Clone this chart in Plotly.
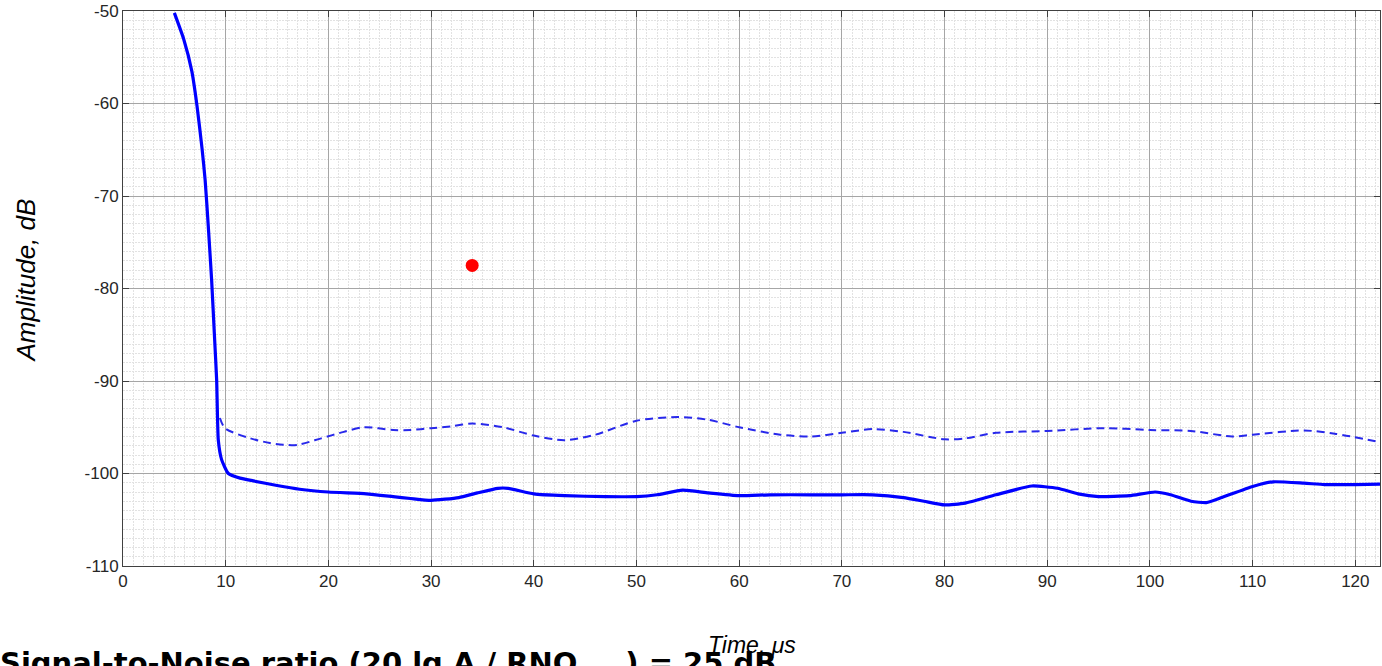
import plotly.graph_objects as go

# Solid trace (signal)
sig_x = [5.0, 5.9, 6.7, 7.2, 7.7, 8.0, 8.3, 8.63, 8.9, 9.12, 9.28, 9.6, 10.26, 11.4,
         12.7, 15, 17.2, 20, 23.7, 26.3, 28, 30, 32.7, 34.5, 36.5, 37.5, 40, 43, 47, 50,
         52, 54.5, 57, 60, 63, 67, 70, 73, 76, 78, 80, 82, 85, 88.5, 91, 93, 95, 98,
         100.5, 102, 104, 105.5, 107, 110, 112, 115, 117, 120, 122.4]
sig_y = [-50.2, -53.0, -56.5, -60.2, -64.9, -68.3, -73.2, -79.1, -85.0, -89.9, -96.4,
         -98.5, -100.0, -100.5, -100.8, -101.3, -101.7, -102.0, -102.2, -102.5, -102.7,
         -102.9, -102.6, -102.1, -101.6, -101.6, -102.2, -102.4, -102.5, -102.5, -102.3,
         -101.8, -102.1, -102.4, -102.3, -102.3, -102.3, -102.3, -102.6, -103.0, -103.4,
         -103.2, -102.3, -101.35, -101.6, -102.2, -102.5, -102.4, -102.0, -102.3, -103.0,
         -103.15, -102.6, -101.4, -100.9, -101.05, -101.2, -101.2, -101.15]

# Dashed trace (noise max)
noise_x = [9.44, 9.93, 12.4, 14.3, 15.6, 17, 19.3, 21.5, 23.5, 26.3, 28, 30, 32, 34, 37, 40,
           43, 46, 50, 54, 57, 60, 64, 67, 70, 73, 76, 80, 82, 85, 90, 95.5, 100, 104, 108,
           110, 115, 118, 122.4]
noise_y = [-94.0, -95.1, -96.2, -96.7, -96.9, -96.9, -96.2, -95.5, -95.0, -95.3, -95.3, -95.1,
           -94.9, -94.6, -95.0, -95.9, -96.4, -95.8, -94.3, -93.9, -94.2, -95.0, -95.8, -96.0,
           -95.6, -95.2, -95.5, -96.3, -96.2, -95.6, -95.4, -95.1, -95.3, -95.4, -96.0, -95.8,
           -95.35, -95.7, -96.6]

# Marker point
pt_x = [34.0]
pt_y = [-77.5]

x_ticks = [0, 10, 20, 30, 40, 50, 60, 70, 80, 90, 100, 110, 120]
y_ticks = [-110, -100, -90, -80, -70, -60, -50]

FONT = "Liberation Sans, Arial, Helvetica, sans-serif"
WIDE = "DejaVu Sans, Liberation Sans, sans-serif"

fig = go.Figure()
fig.add_trace(go.Scatter(x=noise_x, y=noise_y, mode="lines",
                         line=dict(color="rgb(40,40,235)", width=2, dash="8px,5px", shape="spline",
                                   smoothing=0.8),
                         showlegend=False, hoverinfo="skip"))
fig.add_trace(go.Scatter(x=sig_x, y=sig_y, mode="lines",
                         line=dict(color="rgb(0,0,255)", width=3.2, shape="spline", smoothing=0.5),
                         showlegend=False, hoverinfo="skip"))
fig.add_trace(go.Scatter(x=pt_x, y=pt_y, mode="markers",
                         marker=dict(color="rgb(255,0,0)", size=13),
                         showlegend=False, hoverinfo="skip"))

axis_common = dict(
    showline=True, linecolor="#404040", linewidth=1, mirror="ticks",
    ticks="inside", ticklen=6, tickcolor="#404040",
    showgrid=True, gridcolor="#a6a6a6", gridwidth=1,
    zeroline=False,
    tickfont=dict(family=FONT, size=17, color="#262626"),
    minor=dict(showgrid=True, gridcolor="#e2e2e2", griddash="2px,1px", gridwidth=1, dtick=1),
)

fig.update_xaxes(range=[0, 122.4], tickvals=x_ticks, ticktext=[str(v) for v in x_ticks],
                 **axis_common)
fig.update_yaxes(range=[-110, -50], tickvals=y_ticks, ticktext=[str(v) for v in y_ticks],
                 **axis_common)

fig.update_layout(
    width=1382, height=666,
    margin=dict(l=123, r=2, t=11, b=100),
    plot_bgcolor="white", paper_bgcolor="white",
    font=dict(family=FONT),
    annotations=[
        dict(text="<i>Time, μs</i>", xref="paper", yref="paper", x=0.5, y=0,
             xanchor="center", yanchor="top", yshift=-64, showarrow=False,
             font=dict(family=FONT, size=23, color="black")),
        dict(text="<i>Amplitude, dB</i>", xref="paper", yref="paper", x=0, y=0.5,
             xanchor="center", yanchor="middle", xshift=-98, yshift=8, textangle=-90,
             showarrow=False, font=dict(family=FONT, size=26, color="black")),
        dict(text="<b>Signal-to-Noise ratio (20 lg A / RNO<sub>max</sub>) = 25 dB</b>",
             xref="paper", yref="paper", x=0, y=0, xanchor="left", yanchor="top",
             xshift=-125, yshift=-78, showarrow=False,
             font=dict(family=WIDE, size=29, color="black")),
    ],
)

fig.write_html("out.html")
